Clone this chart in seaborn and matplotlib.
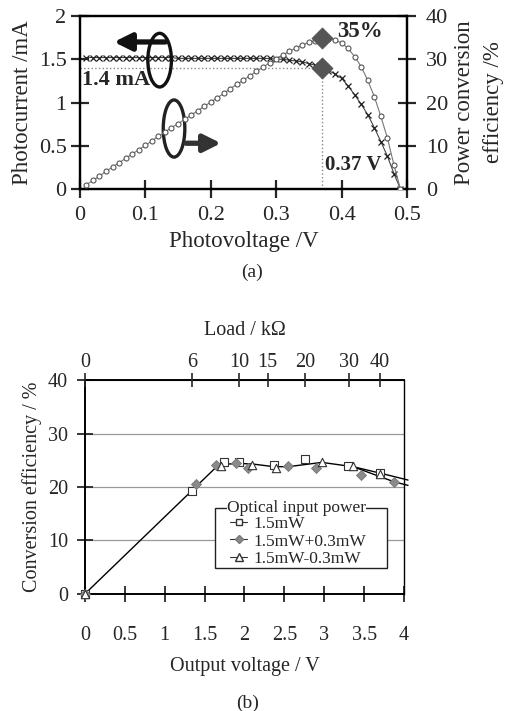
import seaborn as sns
import matplotlib.pyplot as plt
from matplotlib.patches import Ellipse, Rectangle
from matplotlib.lines import Line2D

########################################################
# Data
########################################################
# (a) I-V and efficiency sweep
volt = [0.01, 0.02, 0.03, 0.04, 0.05, 0.06, 0.07, 0.08, 0.09, 0.10,
        0.11, 0.12, 0.13, 0.14, 0.15, 0.16, 0.17, 0.18, 0.19, 0.20,
        0.21, 0.22, 0.23, 0.24, 0.25, 0.26, 0.27, 0.28, 0.29, 0.30,
        0.31, 0.32, 0.33, 0.34, 0.35, 0.36, 0.37, 0.38, 0.39, 0.40,
        0.41, 0.42, 0.43, 0.44, 0.45, 0.46, 0.47, 0.48, 0.49]
current_mA = [1.52, 1.52, 1.52, 1.52, 1.52, 1.52, 1.52, 1.52, 1.52, 1.52,
              1.52, 1.52, 1.52, 1.52, 1.51, 1.51, 1.51, 1.51, 1.51, 1.51,
              1.51, 1.51, 1.51, 1.51, 1.51, 1.51, 1.51, 1.51, 1.51, 1.50,
              1.50, 1.49, 1.48, 1.47, 1.45, 1.43, 1.40, 1.37, 1.33, 1.28,
              1.19, 1.09, 0.98, 0.86, 0.71, 0.55, 0.38, 0.18, 0.0]
efficiency_pct = [1.0, 2.0, 3.0, 4.1, 5.1, 6.1, 7.1, 8.1, 9.1, 10.1,
                  11.1, 12.2, 13.2, 14.2, 15.1, 16.1, 17.1, 18.1, 19.1, 20.1,
                  21.1, 22.1, 23.2, 24.2, 25.2, 26.2, 27.2, 28.2, 29.2, 30.0,
                  31.0, 31.8, 32.6, 33.3, 33.9, 34.3, 34.6, 34.7, 34.4, 33.8,
                  32.5, 30.6, 28.3, 25.1, 21.4, 16.8, 11.8, 5.6, 0.0]
mpp_volt = 0.37
mpp_current = 1.4
mpp_eff = 35

# (b) conversion efficiency vs output voltage
sq_v = [0, 1.34, 1.75, 1.93, 2.37, 2.76, 3.30, 3.70]
sq_e = [0, 19.2, 24.6, 24.6, 24.2, 25.2, 24.0, 22.6]
dia_v = [0, 1.39, 1.64, 1.90, 2.05, 2.55, 2.90, 3.46, 3.87]
dia_e = [0, 20.6, 24.2, 24.4, 23.5, 24.0, 23.5, 22.3, 21.0]
tri_v = [0, 1.71, 2.10, 2.39, 2.97, 3.36, 3.70]
tri_e = [0, 24.0, 24.2, 23.6, 24.6, 23.9, 22.5]
fit_v = [0, 1.68, 1.93, 2.10, 2.37, 2.55, 2.97, 3.36, 3.70, 4.05]
fit_e = [0, 24.2, 24.4, 24.3, 23.8, 23.8, 24.6, 23.8, 22.6, 21.3]
fit2_v = [3.36, 3.87, 4.05]
fit2_e = [23.8, 21.0, 20.3]
load_labels = ['0', '6', '10', '15', '20', '30', '40']
load_volt = [0, 1.34, 1.93, 2.29, 2.76, 3.31, 3.70]
series_labels = ['1.5mW', '1.5mW+0.3mW', '1.5mW-0.3mW']

########################################################
# Style
########################################################
sns.set_style("ticks")
plt.rcParams['font.family'] = ['Liberation Serif', 'DejaVu Serif']

fig = plt.figure(figsize=(5.05, 7.11), dpi=100)

########################################################
# (a)
########################################################
ax1 = fig.add_axes([0.158, 0.734, 0.648, 0.2435])
ax1r = ax1.twinx()

sns.lineplot(x=volt, y=current_mA, ax=ax1, color='#444', lw=0.8,
             marker='x', markersize=5, markeredgecolor='#222',
             markeredgewidth=0.9, zorder=3)
sns.lineplot(x=volt, y=efficiency_pct, ax=ax1r, color='#777', lw=0.8,
             marker='o', markersize=3.6, markerfacecolor='white',
             markeredgecolor='#555', markeredgewidth=0.8, zorder=3)

ax1.plot([0, mpp_volt], [mpp_current, mpp_current], ls=':', color='#888', lw=1)
ax1.plot([mpp_volt, mpp_volt], [0, mpp_current], ls=':', color='#888', lw=1)
sns.scatterplot(x=[mpp_volt], y=[mpp_current], ax=ax1, marker='D', s=110,
                color='#555', edgecolor='#555', zorder=5)
sns.scatterplot(x=[mpp_volt], y=[mpp_eff], ax=ax1r, marker='D', s=110,
                color='#555', edgecolor='#555', zorder=5)

ax1.set_xlim(0, 0.5)
ax1.set_ylim(0, 2)
ax1r.set_ylim(0, 40)
ax1.set_xticks([0, 0.1, 0.2, 0.3, 0.4, 0.5])
ax1.set_xticklabels(['0', '0.1', '0.2', '0.3', '0.4', '0.5'])
ax1.set_yticks([0, 0.5, 1, 1.5, 2])
ax1.set_yticklabels(['0', '0.5', '1', '1.5', '2'])
ax1r.set_yticks([0, 10, 20, 30, 40])

for a in (ax1, ax1r):
    for s in a.spines.values():
        s.set_visible(True)
        s.set_linewidth(1.6)
        s.set_color('k')
ax1.tick_params(axis='both', direction='inout', length=13, width=1.6,
                labelsize=16, pad=3)
ax1.tick_params(axis='x', pad=6)
ax1r.tick_params(axis='y', direction='inout', length=13, width=1.6,
                 labelsize=16, pad=7)

ax1.set_xlabel('Photovoltage /V', fontsize=16.5, labelpad=4)
ax1.set_ylabel('Photocurrent /mA', fontsize=16.5, labelpad=4)
ax1r.set_ylabel('Power conversion\nefficiency /%', fontsize=16.5,
                labelpad=4, linespacing=1.5)

ax1r.text(0.393, 36.4, '35%', fontsize=16.5, fontweight='bold', va='center')
ax1.text(0.003, 1.26, '1.4 mA', fontsize=16, fontweight='bold', va='center')
ax1.text(0.374, 0.28, '0.37 V', fontsize=15, fontweight='bold', va='center')

# rotation symbols with arrows
ax1.add_patch(Ellipse((0.122, 1.49), 0.036, 0.62, fill=False,
                      ec='#111', lw=2.4, zorder=6))
ax1.annotate('', xy=(0.048, 1.70), xytext=(0.135, 1.70),
             arrowprops=dict(arrowstyle='-|>', lw=3.8, color='#111',
                             mutation_scale=26), zorder=6)
ax1.add_patch(Ellipse((0.144, 0.70), 0.033, 0.66, fill=False,
                      ec='#222', lw=2.4, zorder=6))
ax1.annotate('', xy=(0.22, 0.53), xytext=(0.158, 0.53),
             arrowprops=dict(arrowstyle='-|>', lw=3.8, color='#333',
                             mutation_scale=26), zorder=6)

fig.text(0.5, 1 - 272 / 711, '(a)', ha='center', va='center', fontsize=14)

########################################################
# (b)
########################################################
ax2 = fig.add_axes([0.168, 0.1646, 0.632, 0.3009])

ax2.plot(fit_v, fit_e, color='k', lw=1.0, clip_on=False, zorder=3)
ax2.plot(fit2_v, fit2_e, color='k', lw=1.0, clip_on=False, zorder=3)
sns.scatterplot(x=sq_v, y=sq_e, ax=ax2, marker='s', s=32, facecolor='white',
                edgecolor='#333', linewidth=0.8, zorder=4, clip_on=False)
sns.scatterplot(x=dia_v, y=dia_e, ax=ax2, marker='D', s=26, color='#8a8a8a',
                edgecolor='#777', linewidth=0.6, zorder=4, clip_on=False)
sns.scatterplot(x=tri_v, y=tri_e, ax=ax2, marker='^', s=36, facecolor='white',
                edgecolor='#333', linewidth=0.8, zorder=4, clip_on=False)

ax2.set_xlim(0, 4)
ax2.set_ylim(0, 40)
ax2.set_xticks([0, 0.5, 1, 1.5, 2, 2.5, 3, 3.5, 4])
ax2.set_xticklabels(['0', '0.5', '1', '1.5', '2', '2.5', '3', '3.5', '4'])
ax2.set_yticks([0, 10, 20, 30, 40])
ax2.yaxis.grid(True, color='#999', lw=0.9)
ax2.set_axisbelow(True)
for name, s in ax2.spines.items():
    s.set_visible(True)
    s.set_color('k')
    s.set_linewidth(1.4 if name in ('left', 'bottom', 'top') else 1.0)
ax2.tick_params(axis='both', direction='inout', length=12, width=1.3,
                labelsize=14.5)
ax2.tick_params(axis='x', pad=17)
ax2.tick_params(axis='y', pad=6)
ax2.set_xlabel('Output voltage / V', fontsize=14.5, labelpad=9)
ax2.set_ylabel('Conversion efficiency / %', fontsize=14.5, labelpad=4)

ax2t = ax2.twiny()
ax2t.set_xlim(0, 4)
ax2t.set_xticks(load_volt)
ax2t.set_xticklabels(load_labels)
ax2t.tick_params(axis='x', direction='inout', length=10, width=1.2,
                 labelsize=14.5, pad=1)
for s in ax2t.spines.values():
    s.set_visible(False)
ax2t.set_xlabel('Load / k\u03a9', fontsize=14.5, labelpad=13)

# legend box with title on its border
ax2.add_patch(Rectangle((0.4075, 0.1215), 0.54, 0.2785,
                        transform=ax2.transAxes, fc='white', ec='#222',
                        lw=1.0, zorder=4))
handles = [
    Line2D([0], [0], color='#333', lw=0.8, marker='s', ms=5,
           mfc='white', mec='#333'),
    Line2D([0], [0], color='#333', lw=0.8, marker='D', ms=4.2,
           mfc='#8a8a8a', mec='#777'),
    Line2D([0], [0], color='#333', lw=0.8, marker='^', ms=5.5,
           mfc='white', mec='#333'),
]
leg = ax2.legend(handles, series_labels, loc='upper left',
                 bbox_to_anchor=(0.455, 0.365), frameon=False, fontsize=12.5,
                 handlelength=1.0, handletextpad=0.35, labelspacing=0.08,
                 borderpad=0.0, borderaxespad=0)
leg.set_zorder(5)
ax2.text(0.445, 0.40, 'Optical input power', transform=ax2.transAxes,
         fontsize=12.5, va='center', ha='left', zorder=6,
         bbox=dict(fc='white', ec='none', pad=0.0))

fig.text(0.49, 1 - 703 / 711, '(b)', ha='center', va='center', fontsize=14)

plt.savefig('out.png', dpi=100)
